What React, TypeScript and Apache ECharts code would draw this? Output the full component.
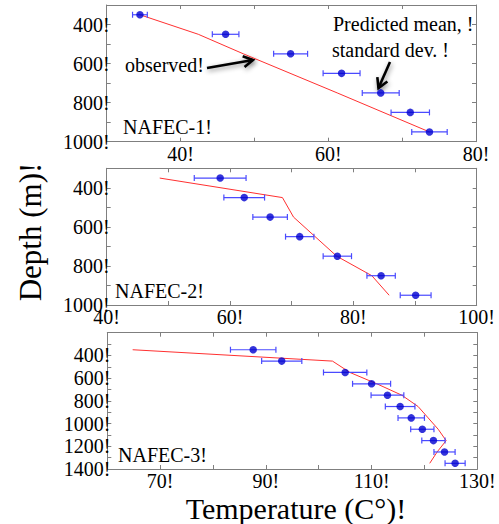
import React, { useEffect, useRef } from "react";
import * as echarts from "echarts";

// Panel 1 (NAFEC-1)
const depths1 = [350, 450, 550, 650, 750, 850, 950];
const pred1 = [34.5, 46.1, 54.9, 61.8, 67.1, 71.1, 73.7];
const sd1 = [1.0, 1.8, 2.3, 2.5, 2.5, 2.6, 2.4];
const obsDepth1 = [350, 450, 550, 750, 950];
const obs1 = [34.5, 42.4, 48.5, 61.2, 73.7];

// Panel 2 (NAFEC-2)
const depths2 = [350, 450, 550, 650, 750, 850, 950];
const pred2 = [58.4, 62.3, 66.5, 71.3, 77.4, 84.5, 90.1];
const sd2 = [4.2, 3.3, 2.8, 2.3, 2.3, 2.3, 2.5];
const obsDepth2 = [350, 450, 550, 750, 850, 950];
const obs2 = [48.6, 68.5, 70.3, 77.3, 83.0, 85.8];

// Panel 3 (NAFEC-3)
const depths3 = [350, 450, 550, 650, 750, 850, 950, 1050, 1150, 1250, 1350];
const pred3 = [87.6, 93.0, 105.0, 110.0, 113.0, 115.4, 117.5, 119.6, 121.7, 123.8, 125.8];
const sd3 = [4.3, 3.8, 4.1, 3.6, 3.1, 2.8, 2.5, 2.2, 2.2, 2.0, 1.9];
const obsDepth3 = [350, 450, 550, 650, 750, 850, 950, 1050, 1150, 1250, 1350];
const obs3 = [64.8, 102.6, 105.9, 111.0, 115.7, 118.8, 120.7, 122.6, 124.1, 122.4, 121.0];

// Axis settings
const xRanges = [
  { min: 30, max: 80, labels: [40, 60, 80] },
  { min: 40, max: 100, labels: [40, 60, 80, 100] },
  { min: 60, max: 130, labels: [70, 90, 110, 130] },
];
const yRanges = [
  { min: 300, max: 1000, labels: [400, 600, 800, 1000] },
  { min: 300, max: 1000, labels: [400, 600, 800, 1000] },
  { min: 200, max: 1400, labels: [400, 600, 800, 1000, 1200, 1400] },
];
const panelNames = ["NAFEC-1!", "NAFEC-2!", "NAFEC-3!"];

const FONT = "Liberation Serif";
const FRAME = "#7f7f7f";

const grids = [
  { left: 106.7, top: 5, width: 369.3, height: 136.7 },
  { left: 106.7, top: 168.3, width: 370, height: 136.7 },
  { left: 107.3, top: 332.7, width: 370, height: 136.3 },
];

function arrow(x1: number, y1: number, x2: number, y2: number) {
  const dx = x2 - x1;
  const dy = y2 - y1;
  const len = Math.sqrt(dx * dx + dy * dy);
  const ux = dx / len;
  const uy = dy / len;
  const w = 11;
  const a = Math.PI / 6;
  const rot = (ang: number) => [
    x2 - w * (ux * Math.cos(ang) - uy * Math.sin(ang)),
    y2 - w * (ux * Math.sin(ang) + uy * Math.cos(ang)),
  ];
  const style = {
    stroke: "#000",
    lineWidth: 2.6,
    fill: null as any,
    shadowBlur: 5,
    shadowColor: "rgba(0,0,0,0.45)",
    shadowOffsetX: 1,
    shadowOffsetY: 2,
  };
  return {
    type: "group",
    children: [
      { type: "line", shape: { x1, y1, x2, y2 }, style },
      { type: "polyline", shape: { points: [rot(a), [x2, y2], rot(-a)] }, style },
    ],
  };
}

export default function App() {
  const ref = useRef<HTMLDivElement>(null);
  useEffect(() => {
    if (!ref.current) return;
    const chart = echarts.init(ref.current, null, { renderer: "svg" });

    const xAxis: any[] = [];
    const yAxis: any[] = [];
    const series: any[] = [];
    const datasets = [
      { d: depths1, p: pred1, s: sd1, od: obsDepth1, o: obs1 },
      { d: depths2, p: pred2, s: sd2, od: obsDepth2, o: obs2 },
      { d: depths3, p: pred3, s: sd3, od: obsDepth3, o: obs3 },
    ];

    for (let i = 0; i < 3; i++) {
      const xr = xRanges[i];
      const yr = yRanges[i];
      const axisLine = { show: true, lineStyle: { color: FRAME, width: 1 } };
      const axisTick = { show: true, inside: true, length: 4, lineStyle: { color: FRAME } };
      xAxis.push({
        type: "value",
        gridIndex: i,
        position: "bottom",
        min: xr.min,
        max: xr.max,
        interval: 10,
        axisLine,
        axisTick,
        splitLine: { show: false },
        axisLabel: {
          show: true,
          margin: 3,
          fontSize: 20,
          lineHeight: 18,
          fontFamily: FONT,
          color: "#000",
          showMinLabel: true,
          showMaxLabel: true,
          formatter: (v: number) => (xr.labels.indexOf(v) >= 0 ? v + "!" : ""),
        },
      });
      xAxis.push({
        type: "value",
        gridIndex: i,
        position: "top",
        min: xr.min,
        max: xr.max,
        interval: 10,
        axisLine,
        axisTick,
        splitLine: { show: false },
        axisLabel: { show: false },
      });
      yAxis.push({
        type: "value",
        gridIndex: i,
        position: "left",
        inverse: true,
        min: yr.min,
        max: yr.max,
        interval: 100,
        axisLine,
        axisTick,
        splitLine: { show: false },
        axisLabel: {
          show: true,
          margin: -3,
          fontSize: 20,
          lineHeight: 18,
          fontFamily: FONT,
          color: "#000",
          showMinLabel: true,
          showMaxLabel: true,
          formatter: (v: number) => (yr.labels.indexOf(v) >= 0 ? v + "!" : ""),
        },
      });
      yAxis.push({
        type: "value",
        gridIndex: i,
        position: "right",
        inverse: true,
        min: yr.min,
        max: yr.max,
        interval: 100,
        axisLine,
        axisTick,
        splitLine: { show: false },
        axisLabel: { show: false },
      });

      const ds = datasets[i];
      series.push({
        type: "line",
        xAxisIndex: 2 * i,
        yAxisIndex: 2 * i,
        data: ds.o.map((t, k) => [t, ds.od[k]]),
        showSymbol: false,
        symbol: "none",
        lineStyle: { color: "#ff3030", width: 1 },
        z: 2,
      });
      series.push({
        type: "custom",
        xAxisIndex: 2 * i,
        yAxisIndex: 2 * i,
        data: ds.p.map((t, k) => [t - ds.s[k], t + ds.s[k], ds.d[k]]),
        encode: { x: [0, 1], y: 2 },
        renderItem: (params: any, api: any) => {
          const lo = api.coord([api.value(0), api.value(2)]);
          const hi = api.coord([api.value(1), api.value(2)]);
          const h = 3;
          const st = { stroke: "#4a4aff", lineWidth: 1.2 };
          return {
            type: "group",
            children: [
              { type: "line", shape: { x1: lo[0], y1: lo[1], x2: hi[0], y2: hi[1] }, style: st },
              { type: "line", shape: { x1: lo[0], y1: lo[1] - h, x2: lo[0], y2: lo[1] + h }, style: st },
              { type: "line", shape: { x1: hi[0], y1: hi[1] - h, x2: hi[0], y2: hi[1] + h }, style: st },
            ],
          };
        },
        z: 3,
      });
      series.push({
        type: "scatter",
        xAxisIndex: 2 * i,
        yAxisIndex: 2 * i,
        data: ds.p.map((t, k) => [t, ds.d[k]]),
        symbol: "circle",
        symbolSize: 7.5,
        itemStyle: { color: "#0000d0" },
        z: 4,
      });
    }

    const textStyle = (text: string, extra: any = {}) => ({
      text,
      fontSize: 20,
      lineHeight: 20,
      fontFamily: FONT,
      fill: "#000",
      ...extra,
    });

    const graphic: any[] = [
      { type: "text", x: 123, y: 127, style: textStyle(panelNames[0], { verticalAlign: "middle" }) },
      { type: "text", x: 115, y: 291, style: textStyle(panelNames[1], { verticalAlign: "middle" }) },
      { type: "text", x: 118, y: 455, style: textStyle(panelNames[2], { verticalAlign: "middle" }) },
      { type: "text", x: 125, y: 65, style: textStyle("observed!", { verticalAlign: "middle" }) },
      { type: "text", x: 333, y: 24, style: textStyle("Predicted mean, !", { verticalAlign: "middle" }) },
      { type: "text", x: 332, y: 50, style: textStyle("standard dev. !", { verticalAlign: "middle" }) },
      arrow(207, 68, 253, 60),
      arrow(390, 62, 378.5, 88),
      {
        type: "text",
        x: 30,
        y: 232,
        rotation: Math.PI / 2,
        style: textStyle("Depth (m)!", { fontSize: 31, lineHeight: 28, align: "center", verticalAlign: "middle" }),
      },
      {
        type: "text",
        x: 296,
        y: 508,
        style: textStyle("Temperature (C°)!", { fontSize: 30, lineHeight: 26, align: "center", verticalAlign: "middle" }),
      },
    ];

    chart.setOption({
      animation: false,
      backgroundColor: "#fff",
      grid: grids.map((g) => ({ ...g, containLabel: false })),
      xAxis,
      yAxis,
      series,
      graphic,
    });
    return () => chart.dispose();
  }, []);
  return (
    <div
      ref={ref}
      style={{ position: "fixed", left: 0, top: 0, width: 499, height: 524, background: "#fff" }}
    />
  );
}
